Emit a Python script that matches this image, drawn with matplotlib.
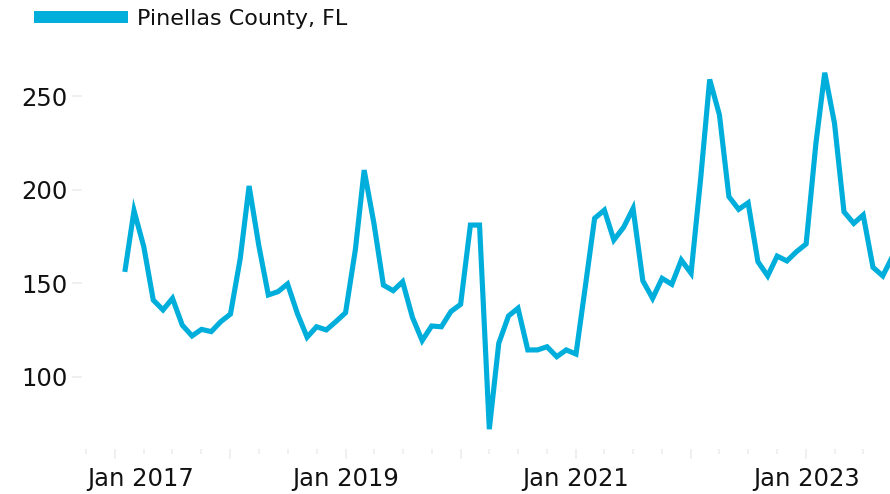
import numpy as np
import pandas as pd
import matplotlib
matplotlib.use('Agg')
import matplotlib.pyplot as plt
import matplotlib.dates as mdates
from matplotlib.lines import Line2D

# Dades mensuals (Feb 2017 - Oct 2023)
serie_nom = 'Pinellas County, FL'
primer_mes = '2017-02-01'
valors = [157.4, 188.8, 169.5, 141.0, 135.7, 141.9, 127.6, 121.8, 125.3, 124.1, 129.4,
          133.5, 163.3, 202.0, 170.0, 143.7, 145.5, 149.6, 133.9, 121.1, 126.7, 125.0, 129.4,
          134.2, 167.8, 210.5, 182.0, 149.0, 146.0, 150.8, 131.8, 119.3, 127.1, 126.7, 134.8,
          138.7, 181.1, 181.1, 71.9, 117.9, 132.5, 136.6, 114.3, 114.3, 116.0, 110.7, 114.3,
          112.1, 150.0, 184.7, 189.1, 173.1, 179.9, 190.0, 151.3, 141.9, 152.6, 149.4, 162.4,
          155.3, 207.0, 259.0, 240.0, 196.3, 189.5, 193.0, 161.5, 153.9, 164.5, 161.9, 166.8,
          171.0, 224.8, 262.6, 235.5, 188.2, 182.0, 186.5, 158.5, 153.9, 164.0]
yticks = [100, 150, 200, 250]
anys_etiqueta = [2019, 2021, 2023]   # el 2017 va a part, desplaçat
primer_any = 2017

color = '#00aedb'
W, H = 890, 494

dates = pd.date_range(primer_mes, periods=len(valors), freq='MS')

fig = plt.figure(figsize=(W / 100, H / 100), dpi=100)
ax = fig.add_axes([82 / W, (H - 449) / H, (890 - 82) / W, (449 - 60) / H])

ax.plot(dates, valors, color=color, lw=3.7, solid_joinstyle='miter')

# Eixos
for s in ax.spines.values():
    s.set_visible(False)
ax.set_ylim(61.3, 269.4)
ax.set_xlim(pd.Timestamp('2016-09-17'), pd.Timestamp('2023-09-24'))

ax.set_yticks(yticks)
ax.tick_params(axis='y', length=7, width=1.2, color='#eeeeee', labelsize=17.5,
               labelcolor='#111111', pad=3.5)

ax.xaxis.set_major_locator(mdates.YearLocator())
ax.xaxis.set_minor_locator(mdates.MonthLocator(bymonth=[4, 7, 10]))
ax.xaxis.set_major_formatter(plt.FuncFormatter(
    lambda x, pos: 'Jan %d' % mdates.num2date(x).year
    if mdates.num2date(x).year in anys_etiqueta else ''))
ax.tick_params(axis='x', which='major', length=7, width=1.2, color='#eeeeee',
               labelsize=17.5, labelcolor='#111111', pad=6)
ax.tick_params(axis='x', which='minor', length=3.5, width=1.2, color='#eeeeee')

# primera etiqueta desplaçada a la dreta (com a l'original)
ax.annotate('Jan %d' % primer_any, xy=(pd.Timestamp('%d-01-01' % primer_any), 0),
            xycoords=('data', 'axes fraction'), xytext=(18.5, -13),
            textcoords='offset points', ha='center', va='top',
            fontsize=17.5, color='#111111', annotation_clip=False)

# Llegenda
handle = Line2D([], [], color=color, lw=8.6, solid_capstyle='butt')
fig.legend([handle], [serie_nom], loc='center left',
           bbox_to_anchor=(34 / W, 1 - 19 / H), frameon=False,
           borderpad=0, borderaxespad=0, handlelength=4.25, handletextpad=0.4,
           prop={'size': 16}, labelcolor='#111111')

fig.savefig('out.png', dpi=100)
